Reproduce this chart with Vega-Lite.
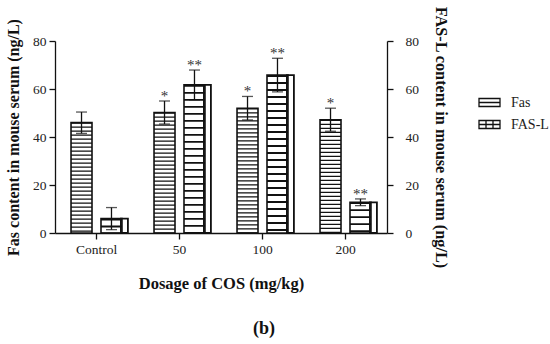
{
  "$schema": "https://vega.github.io/schema/vega-lite/v6.json",
  "width": 332,
  "height": 192,
  "padding": 5,
  "background": "white",
  "config": {
    "view": {"stroke": null},
    "font": "Liberation Serif",
    "legend": {"labelFont": "Liberation Serif", "labelFontSize": 14, "labelColor": "#222"},
    "axis": {
      "labelFont": "Liberation Serif",
      "titleFont": "Liberation Serif",
      "labelColor": "#222",
      "titleColor": "#111",
      "domainColor": "#111",
      "tickColor": "#111",
      "domainWidth": 1.3,
      "tickWidth": 1.3,
      "tickSize": 6,
      "grid": false,
      "labelFontSize": 13.5,
      "titleFontWeight": "bold"
    }
  },
  "title": {
    "text": "(b)",
    "orient": "bottom",
    "anchor": "middle",
    "fontSize": 18,
    "fontWeight": "bold",
    "font": "Liberation Serif",
    "color": "#111",
    "dx": 43,
    "offset": 28
  },
  "data": {
    "values": [
      {"dose": "Control", "series": "Fas", "value": 46, "lo": 41.5, "hi": 50.4, "sig": ""},
      {"dose": "Control", "series": "FAS-L", "value": 6, "lo": 1.4, "hi": 10.6, "sig": ""},
      {"dose": "50", "series": "Fas", "value": 50.2, "lo": 45.4, "hi": 55, "sig": "*"},
      {"dose": "50", "series": "FAS-L", "value": 61.7, "lo": 55.5, "hi": 67.9, "sig": "**"},
      {"dose": "100", "series": "Fas", "value": 52, "lo": 47.1, "hi": 56.9, "sig": "*"},
      {"dose": "100", "series": "FAS-L", "value": 65.8, "lo": 58.8, "hi": 72.8, "sig": "**"},
      {"dose": "200", "series": "Fas", "value": 47.2, "lo": 42.4, "hi": 52, "sig": "*"},
      {"dose": "200", "series": "FAS-L", "value": 12.8, "lo": 11.4, "hi": 14.2, "sig": "**"}
    ]
  },
  "encoding": {
    "x": {
      "field": "dose",
      "type": "nominal",
      "sort": ["Control", "50", "100", "200"],
      "scale": {"paddingInner": 0.28, "paddingOuter": 0.14},
      "title": "Dosage of COS (mg/kg)",
      "axis": {"labelAngle": 0, "labelPadding": 3, "titlePadding": 20, "titleFontSize": 16.5}
    },
    "xOffset": {
      "field": "series",
      "type": "nominal",
      "scale": {"domain": ["Fas", "FAS-L"], "paddingInner": 0.3, "paddingOuter": 0.147}
    }
  },
  "layer": [
    {
      "layer": [
        {
          "mark": {"type": "bar", "fill": "white", "stroke": null},
          "encoding": {
            "y": {
              "field": "value",
              "type": "quantitative",
              "scale": {"domain": [0, 80]},
              "title": "Fas content in mouse serum (ng/L)",
              "axis": {"values": [0, 20, 40, 60, 80], "labelPadding": 3, "titlePadding": 11, "titleFontSize": 16}
            }
          }
        },
        {
          "transform": [{"filter": "datum.series == 'Fas'"}],
          "mark": {"type": "rule", "strokeWidth": 21, "color": "#111", "strokeDash": [1.2, 2.8]},
          "encoding": {
            "y": {"field": "value", "type": "quantitative", "title": "Fas content in mouse serum (ng/L)"},
            "y2": {"datum": 0}
          }
        },
        {
          "transform": [{"filter": "datum.series == 'FAS-L'"}],
          "mark": {"type": "rule", "strokeWidth": 21, "color": "#111", "strokeDash": [1.8, 5.2]},
          "encoding": {
            "y": {"field": "value", "type": "quantitative", "title": "Fas content in mouse serum (ng/L)"},
            "y2": {"datum": 0}
          }
        },
        {
          "transform": [{"filter": "datum.series == 'FAS-L'"}],
          "mark": {"type": "bar", "fill": null, "fillOpacity": 0, "stroke": "#111", "strokeWidth": 1.8, "width": {"band": 0.3333}},
          "encoding": {
            "y": {"field": "value", "type": "quantitative", "title": "Fas content in mouse serum (ng/L)"}
          }
        },
        {
          "mark": {"type": "bar", "fill": null, "fillOpacity": 0, "stroke": "#111", "strokeWidth": 1.6},
          "encoding": {
            "y": {"field": "value", "type": "quantitative", "title": "Fas content in mouse serum (ng/L)"}
          }
        },
        {
          "mark": {"type": "rule", "color": "#111", "strokeWidth": 1.3},
          "encoding": {
            "y": {"field": "lo", "type": "quantitative", "title": "Fas content in mouse serum (ng/L)"},
            "y2": {"field": "hi"}
          }
        },
        {
          "mark": {"type": "tick", "orient": "horizontal", "color": "#111", "thickness": 1.3, "size": 11},
          "encoding": {
            "y": {"field": "hi", "type": "quantitative", "title": "Fas content in mouse serum (ng/L)"}
          }
        },
        {
          "mark": {"type": "tick", "orient": "horizontal", "color": "#111", "thickness": 1.3, "size": 11},
          "encoding": {
            "y": {"field": "lo", "type": "quantitative", "title": "Fas content in mouse serum (ng/L)"}
          }
        },
        {
          "mark": {"type": "text", "baseline": "alphabetic", "dy": 0, "fontSize": 15, "color": "#333", "font": "Liberation Serif"},
          "encoding": {
            "y": {"field": "hi", "type": "quantitative", "title": "Fas content in mouse serum (ng/L)"},
            "text": {"field": "sig"}
          }
        }
      ]
    },
    {
      "mark": {"type": "point", "size": 0, "filled": false, "color": "#111", "strokeWidth": 1.3},
      "encoding": {
        "y": {
          "field": "value",
          "type": "quantitative",
          "scale": {"domain": [0, 80]},
          "title": "FAS-L content in mouse serum (ng/L)",
          "axis": {"orient": "right", "values": [0, 20, 40, 60, 80], "labelPadding": 12, "labelAlign": "left", "titlePadding": 14, "titleFontSize": 16.3}
        },
        "shape": {
          "field": "series",
          "type": "nominal",
          "scale": {
            "domain": ["Fas", "FAS-L"],
            "range": [
              "M-1,-0.38H1V0.38H-1Z M-1,0H1",
              "M-1,-0.38H1V0.38H-1Z M-1,0H1 M-0.333,-0.38V0.38 M0.333,-0.38V0.38"
            ]
          },
          "legend": {
            "title": null,
            "orient": "none",
            "legendX": 423,
            "legendY": 50,
            "symbolSize": 441,
            "symbolStrokeColor": "#111",
            "symbolFillColor": "white",
            "symbolStrokeWidth": 1.3,
            "symbolOpacity": 1,
            "labelFont": "Liberation Serif",
            "labelFontSize": 14,
            "labelColor": "#222",
            "labelOffset": 10,
            "rowPadding": 3
          }
        }
      }
    }
  ],
  "resolve": {"scale": {"y": "independent"}}
}
